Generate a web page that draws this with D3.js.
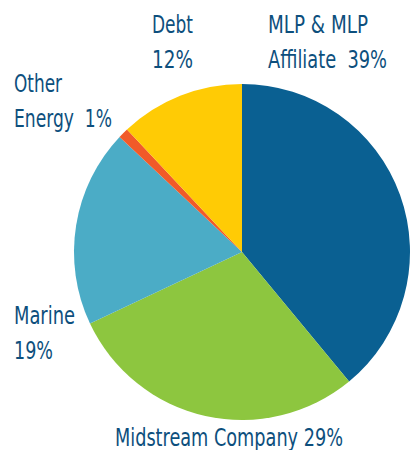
<!DOCTYPE html>
<html>
<head>
<meta charset="utf-8">
<script src="https://cdn.jsdelivr.net/npm/d3@7"></script>
<style>
  body { margin: 0; background: #fff; }
  text { font-family: "DejaVu Sans Condensed", "Liberation Sans Narrow", sans-serif; fill: #0d4f7d; font-size: 24px; }
</style>
</head>
<body>
<svg id="chart" width="411" height="450"></svg>
<script>
// slices, clockwise from 12 o'clock
let categories = ["MLP & MLP Affiliate", "Midstream Company", "Marine", "Other Energy", "Debt"];
let values = [39, 29, 19, 1, 12];
let colors = ["#0a6092", "#8dc63f", "#4bacc6", "#f15a29", "#ffcb05"];

// label lines, one list per slice
let label_lines = [
  ["MLP & MLP", "Affiliate  39%"],
  ["Midstream Company 29%"],
  ["Marine", "19%"],
  ["Other", "Energy  1%"],
  ["Debt", "12%"]
];
// the original uses a condensed face, so each line is squeezed to its width
let label_widths = [
  [100, 119],
  [228],
  [61, 39],
  [48, 98],
  [41, 41]
];
let label_pos = [[268, 33], [115, 446], [14, 324], [14, 92], [152, 33]];

let svg = d3.select("#chart");
let cx = 242, cy = 252, r = 168;

let pie = d3.pie().sort(null).value(d => d.value);
let arc = d3.arc().innerRadius(0).outerRadius(r);

let data = categories.map((c, i) => ({name: c, value: values[i], color: colors[i]}));

svg.append("g")
  .attr("transform", `translate(${cx},${cy})`)
  .selectAll("path")
  .data(pie(data)).enter()
  .append("path")
  .attr("d", arc)
  .attr("fill", d => d.data.color);

let labels = svg.append("g")
  .selectAll("g")
  .data(label_lines).enter()
  .append("g");

labels.selectAll("text")
  .data((d, i) => d.map((t, j) => ({t: t, x: label_pos[i][0], y: label_pos[i][1] + j * 34.5, w: label_widths[i][j]})))
  .enter()
  .append("text")
  .attr("x", d => d.x)
  .attr("y", d => d.y)
  .attr("textLength", d => d.w)
  .attr("lengthAdjust", "spacingAndGlyphs")
  .style("white-space", "pre")
  .text(d => d.t);
</script>
</body>
</html>
